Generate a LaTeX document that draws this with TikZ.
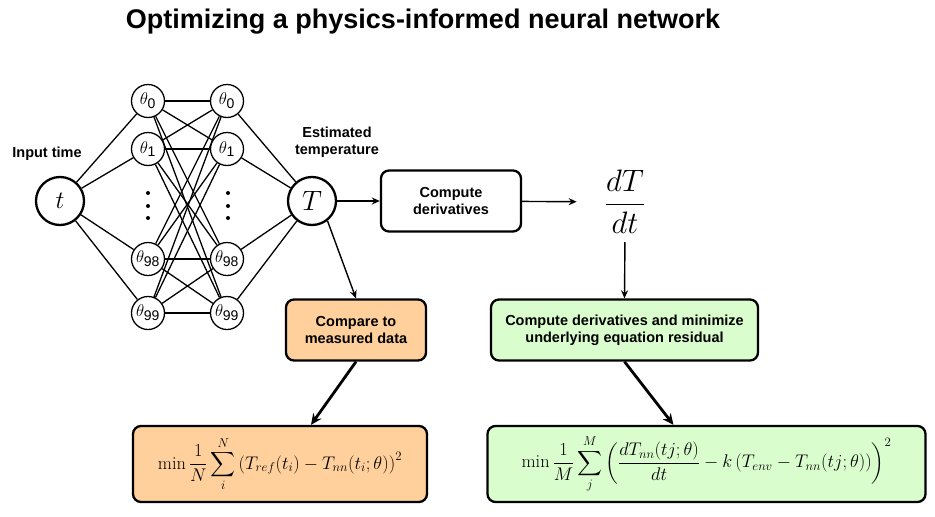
\documentclass[tikz,border=0pt]{standalone}
\usepackage{fix-cm}
\usepackage{amsmath}
\usepackage{fontspec}
\newfontfamily\labelfont{Liberation Sans}
\usetikzlibrary{arrows.meta,calc}
\definecolor{orangefill}{HTML}{FFD09B}
\definecolor{greenfill}{HTML}{DAFDCD}
\newcommand{\thsub}[1]{\theta_{\text{\labelfont\fontsize{14}{14}\selectfont #1}}}
\begin{document}
\begin{tikzpicture}[x=1pt,y=-1pt,
  lbl/.style={font=\labelfont\bfseries\fontsize{14.5}{17}\selectfont, align=center, inner sep=0pt},
  neuron/.style={circle, draw, line width=1.3pt, minimum size=33pt, inner sep=0pt, font=\fontsize{17}{17}\selectfont},
  io/.style={circle, draw, line width=2.3pt, minimum size=48pt, inner sep=0pt},
  procbox/.style={draw, line width=2.3pt, rounded corners=8pt, align=center, inner sep=0pt,
     font=\labelfont\bfseries\fontsize{14.5}{17}\selectfont},
  link/.style={line width=1.3pt},
  arr/.style={line width=1.4pt, -{Stealth[length=8pt,width=7pt]}},
  thickarr/.style={line width=2.8pt, -{Stealth[length=11pt,width=10pt]}},
  dot/.style={circle, fill, inner sep=0pt, minimum size=4pt}
]
\useasboundingbox (0,0) rectangle (935,517);

\node[font=\labelfont\bfseries\fontsize{27}{30}\selectfont] (title) at (423,22) {Optimizing a physics-informed neural network};

\node[lbl] (inlbl) at (47,154) {Input time};
\node[lbl] (outlbl) at (337,142) {Estimated\\temperature};

\node[io, font=\fontsize{25}{25}\selectfont] (t) at (60,201) {$t$};
\node[io, font=\fontsize{28}{28}\selectfont] (T) at (312,201) {$T$};

\node[neuron] (a0) at (148,101) {$\thsub{0}$};
\node[neuron] (a1) at (148,149) {$\thsub{1}$};
\node[neuron] (a98) at (148,259) {$\thsub{98}$};
\node[neuron] (a99) at (148,313) {$\thsub{99}$};
\node[neuron] (b0) at (227,101) {$\thsub{0}$};
\node[neuron] (b1) at (227,149) {$\thsub{1}$};
\node[neuron] (b98) at (227,259) {$\thsub{98}$};
\node[neuron] (b99) at (227,313) {$\thsub{99}$};

\foreach \y [count=\i] in {193,206,218} {
  \node[dot] (da\i) at (148,\y) {};
  \node[dot] (db\i) at (228,\y) {};
}

\foreach \a in {a0,a1,a98,a99} {
  \draw[link] (t) -- (\a);
  \foreach \b in {b0,b1,b98,b99} {
    \draw[link] (\a) -- (\b);
  }
}
\foreach \b in {b0,b1,b98,b99} {
  \draw[link] (\b) -- (T);
}

\node[procbox, minimum width=140pt, minimum height=61pt] (cd) at (451,201) {Compute\\derivatives};
\node[inner xsep=28pt, inner ysep=0pt, font=\fontsize{31}{31}\selectfont] (dTdt) at (625,202) {$\displaystyle\frac{dT}{dt}$};

\node[procbox, fill=orangefill, minimum width=140pt, minimum height=61pt] (ob) at (356,330) {Compare to\\measured data};
\node[procbox, fill=greenfill, minimum width=267pt, minimum height=61pt] (gb) at (624.5,330) {Compute derivatives and minimize\\underlying equation residual};

\node[procbox, fill=orangefill, minimum width=294pt, minimum height=76pt, font=\fontsize{18.3}{18.3}\selectfont] (of) at (280,464)
  {$\displaystyle \min\frac{1}{N}\sum_{i}^{N}\left(T_{ref}(t_i)-T_{nn}(t_i;\theta)\right)^2$};
\node[procbox, fill=greenfill, minimum width=438pt, minimum height=76pt, font=\fontsize{18.3}{18.3}\selectfont] (gf) at (706.5,464)
  {$\displaystyle \min\frac{1}{M}\sum_{j}^{M}\left(\frac{dT_{nn}(tj;\theta)}{dt}-k\,(T_{env}-T_{nn}(tj;\theta))\right)^2$};

\draw[arr] (T) -- (cd);
\draw[arr] (cd) -- (dTdt);
\draw[arr, shorten <=8pt] (dTdt.south) -- (gb.north);
\draw[arr] (T.-52) -- (ob.north);
\draw[thickarr] (ob.south) -- ($(of.north)+(31,0)$);
\draw[thickarr] (gb.south) -- ($(gf.north)+(-33,0)$);
\end{tikzpicture}
\end{document}
